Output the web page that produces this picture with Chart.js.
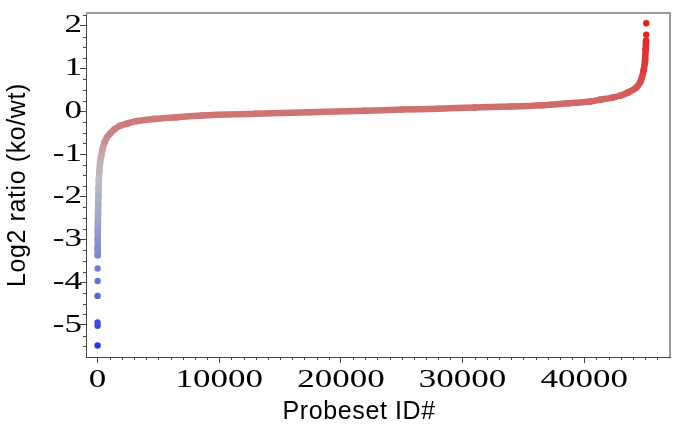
<!DOCTYPE html>
<html>
<head>
<meta charset="utf-8">
<script src="https://cdn.jsdelivr.net/npm/chart.js@4.4.0/dist/chart.umd.min.js"></script>
<style>
  html, body { margin: 0; padding: 0; background: #fff; }
  canvas { display: block; }
</style>
</head>
<body>
<canvas id="myChart" width="677" height="435"></canvas>
<script>
'use strict';

// sorted log2(ko/wt) per probeset
let lowTailIds = [1, 2, 3, 4, 5, 6];
let lowTailRatios = [-5.48, -5.02, -4.94, -4.32, -3.97, -3.68];

let probesetIds = [
  8, 12, 16, 22, 30, 40, 52, 66, 85, 110, 150, 210, 300, 420, 580, 780,
  1010, 1400, 1840, 2500, 3200, 4600, 6500, 8600, 13000, 17500, 22000,
  25000, 28000, 31000, 34000, 36500, 38700, 40500, 41300, 42300, 43000,
  43600, 44300, 44600, 44750, 44900, 45000, 45050, 45080
];
let log2Ratios = [
  -3.37, -3.2, -3.0, -2.8, -2.6, -2.4, -2.2, -2.0, -1.8, -1.6, -1.4, -1.2, -1.05, -0.88, -0.72, -0.61,
  -0.53, -0.42, -0.34, -0.28, -0.23, -0.18, -0.14, -0.10, -0.06, -0.02, 0.01,
  0.04, 0.06, 0.09, 0.11, 0.14, 0.19, 0.23, 0.27, 0.32, 0.37,
  0.44, 0.56, 0.68, 0.80, 0.98, 1.2, 1.45, 1.65
];

let highTailIds = [45095, 45101];
let highTailRatios = [1.79, 2.06];

let xTicks = [0, 10000, 20000, 30000, 40000];
let yTicks = [-5, -4, -3, -2, -1, 0, 1, 2];

// colour ramp blue -> grey -> red by ratio
const colorStops = [
  [-5.5, 35, 55, 235],
  [-4.5, 80, 95, 220],
  [-3.5, 120, 130, 212],
  [-2.5, 160, 165, 205],
  [-1.6, 188, 188, 195],
  [-1.0, 200, 168, 168],
  [-0.5, 206, 128, 128],
  [0, 207, 115, 115],
  [0.5, 212, 88, 88],
  [1.0, 224, 58, 58],
  [2.1, 240, 25, 25]
];

function colorFor(v) {
  if (v <= colorStops[0][0]) {
    return `rgb(${colorStops[0][1]},${colorStops[0][2]},${colorStops[0][3]})`;
  }
  for (let i = 1; i < colorStops.length; i++) {
    let a = colorStops[i - 1];
    let b = colorStops[i];
    if (v <= b[0]) {
      let t = (v - a[0]) / (b[0] - a[0]);
      let r = Math.round(a[1] + (b[1] - a[1]) * t);
      let g = Math.round(a[2] + (b[2] - a[2]) * t);
      let bl = Math.round(a[3] + (b[3] - a[3]) * t);
      return `rgb(${r},${g},${bl})`;
    }
  }
  let last = colorStops[colorStops.length - 1];
  return `rgb(${last[1]},${last[2]},${last[3]})`;
}

function toPoints(xs, ys) {
  return xs.map((x, i) => ({ x: x, y: ys[i] }));
}

const canvas = document.getElementById('myChart');
const ctx = canvas.getContext('2d');

// the reference tick digits are drawn wide; stretch serif text sideways
const plainFillText = ctx.fillText;
ctx.fillText = function (text, x, y, maxWidth) {
  if (this.font.indexOf('Serif') >= 0) {
    this.save();
    this.letterSpacing = '0px';
    this.translate(x, y);
    this.scale(1.4, 1);
    plainFillText.call(this, text, 0, 0);
    this.restore();
    return;
  }
  this.letterSpacing = '0.6px';
  if (maxWidth === undefined) {
    plainFillText.call(this, text, x, y);
  } else {
    plainFillText.call(this, text, x, y, maxWidth);
  }
};

const frameAndMinorTicks = {
  id: 'frameAndMinorTicks',
  beforeDatasetsDraw(chart) {
    const { ctx, chartArea } = chart;
    ctx.save();
    ctx.strokeStyle = '#9a9a9a';
    ctx.lineWidth = 2;
    ctx.beginPath();
    ctx.moveTo(chartArea.left, chartArea.top);
    ctx.lineTo(chartArea.right, chartArea.top);
    ctx.lineTo(chartArea.right, chartArea.bottom);
    ctx.stroke();
    ctx.restore();
  },
  afterDraw(chart) {
    const { ctx, chartArea, scales } = chart;
    ctx.save();
    ctx.strokeStyle = '#444';
    ctx.lineWidth = 1;
    ctx.beginPath();
    for (let v = 1000; v <= 46000; v += 1000) {
      if (v % 10000 === 0) continue;
      let px = Math.round(scales.x.getPixelForValue(v)) + 0.5;
      ctx.moveTo(px, chartArea.bottom);
      ctx.lineTo(px, chartArea.bottom + 3);
    }
    for (let v = -5.5; v <= 2.25; v += 0.25) {
      if (Number.isInteger(v)) continue;
      let py = Math.round(scales.y.getPixelForValue(v)) + 0.5;
      ctx.moveTo(chartArea.left, py);
      ctx.lineTo(chartArea.left - 3, py);
    }
    ctx.stroke();
    ctx.restore();
  }
};

let myChart = new Chart(ctx, {
  type: 'scatter',
  data: {
    datasets: [{
      label: 'low tail',
      data: toPoints(lowTailIds, lowTailRatios),
      showLine: false,
      pointRadius: 3.2,
      pointBorderWidth: 0,
      pointBackgroundColor: (c) => colorFor(c.raw ? c.raw.y : 0)
    }, {
      label: 'probesets',
      data: toPoints(probesetIds, log2Ratios),
      showLine: true,
      borderWidth: 6.5,
      borderColor: '#cf7373',
      borderCapStyle: 'round',
      borderJoinStyle: 'round',
      cubicInterpolationMode: 'monotone',
      segment: {
        borderColor: (c) => colorFor((c.p0.parsed.y + c.p1.parsed.y) / 2)
      },
      pointRadius: 3.2,
      pointBorderWidth: 0,
      pointBackgroundColor: (c) => colorFor(c.raw ? c.raw.y : 0)
    }, {
      label: 'high tail',
      data: toPoints(highTailIds, highTailRatios),
      showLine: false,
      pointRadius: 3.2,
      pointBorderWidth: 0,
      pointBackgroundColor: (c) => colorFor(c.raw ? c.raw.y : 0)
    }]
  },
  options: {
    responsive: false,
    animation: false,
    devicePixelRatio: 1,
    layout: { padding: { top: 7, right: 7, left: 0, bottom: 0 } },
    plugins: {
      legend: { display: false },
      tooltip: { enabled: false }
    },
    scales: {
      x: {
        type: 'linear',
        min: -950,
        max: 47050,
        afterFit: (scale) => { scale.height = 78; },
        afterBuildTicks: (scale) => { scale.ticks = xTicks.map((v) => ({ value: v })); },
        grid: { drawOnChartArea: false, drawTicks: true, tickLength: 6, tickColor: '#444' },
        border: { color: '#444', width: 1 },
        ticks: {
          autoSkip: false,
          maxRotation: 0,
          padding: 2,
          color: '#000',
          font: { family: 'Liberation Serif', size: 25 },
          callback: (v) => String(v)
        },
        title: {
          display: true,
          text: 'Probeset ID#     ',
          color: '#000',
          font: { family: 'Liberation Sans', size: 25 },
          padding: { top: 0, bottom: 8 }
        }
      },
      y: {
        type: 'linear',
        min: -5.75,
        max: 2.3,
        afterFit: (scale) => { scale.width = 86; },
        afterBuildTicks: (scale) => { scale.ticks = yTicks.map((v) => ({ value: v })); },
        grid: { drawOnChartArea: false, drawTicks: true, tickLength: 6, tickColor: '#444' },
        border: { color: '#444', width: 1 },
        ticks: {
          padding: -2,
          color: '#000',
          font: { family: 'Liberation Serif', size: 25 },
          callback: (v) => String(v)
        },
        title: {
          display: true,
          text: 'Log2 ratio (ko/wt)',
          color: '#000',
          font: { family: 'Liberation Sans', size: 25 },
          padding: { top: 3, bottom: 0 }
        }
      }
    }
  },
  plugins: [frameAndMinorTicks]
});
</script>
</body>
</html>
